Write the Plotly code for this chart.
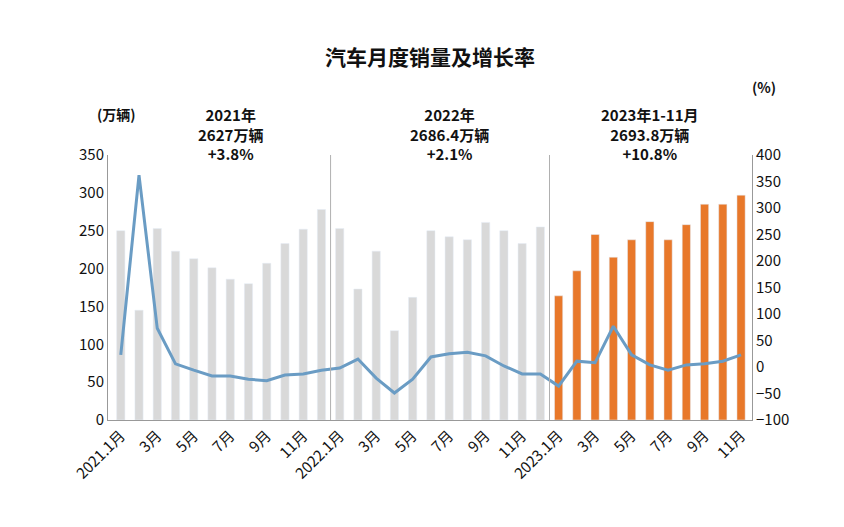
import plotly.graph_objects as go

months = [f"{y}.{m}" for y in (2021, 2022) for m in range(1, 13)] + [f"2023.{m}" for m in range(1, 12)]
sales = [250, 145, 253, 223, 213, 201, 186, 180, 207, 233, 252, 278,
         253, 173, 223, 118, 162, 250, 242, 238, 261, 250, 233, 255,
         164, 197, 245, 215, 238, 262, 238, 258, 285, 285, 297]
growth = [23, 362, 73, 6, -6, -17, -17, -23, -26, -15, -13, -6,
          -2, 15, -21, -49, -23, 19, 25, 28, 21, 2, -13, -13,
          -36, 11, 8, 77, 23, 4, -6, 4, 6, 11, 23]
tick_vals = months[::2] + ["2022.1", "2023.1"]
tick_text = [(m + "月") if m.endswith(".1") else m.split(".")[1] + "月" for m in tick_vals]
year_notes = ["2021年<br>2627万辆<br>+3.8%", "2022年<br>2686.4万辆<br>+2.1%", "2023年1-11月<br>2693.8万辆<br>+10.8%"]
note_x = [6, 18, 29]

colors = ["#d9d9d9"] * 24 + ["#e8782a"] * 11

fig = go.Figure()
fig.add_trace(go.Bar(x=months, y=sales, marker_color=colors, width=0.45, yaxis="y"))
fig.add_trace(go.Scatter(x=months, y=growth, mode="lines", line=dict(color="#6a9cc4", width=3), yaxis="y2"))

for xv in (11.5, 23.5):
    fig.add_shape(type="line", x0=xv, x1=xv, y0=0, y1=1, yref="paper", xref="x",
                  line=dict(color="#b0b0b0", width=1))
for t, xv in zip(year_notes, note_x):
    fig.add_annotation(x=xv, xref="x", y=1.2, yref="paper", text="<b>" + t + "</b>", showarrow=False,
                       yanchor="top", font=dict(size=15, color="#111"))
fig.add_annotation(x=-0.02, y=1.2, xref="paper", yref="paper", text="<b>(万辆)</b>", showarrow=False,
                   yanchor="top", font=dict(size=14, color="#111"))
fig.add_annotation(x=1.04, y=1.3, xref="paper", yref="paper", text="<b>(%)</b>", showarrow=False,
                   yanchor="top", font=dict(size=14, color="#111"))

fig.update_layout(
    width=844, height=527, showlegend=False, plot_bgcolor="white", paper_bgcolor="white",
    title=dict(text="<b>汽车月度销量及增长率</b>", x=0.5, y=0.92, font=dict(size=21, color="#111")),
    font=dict(family="Noto Sans CJK SC", size=15, color="#111"),
    margin=dict(l=100, r=100, t=147, b=115), bargap=0.5,
    xaxis=dict(type="category", tickvals=tick_vals, ticktext=tick_text, tickangle=-45, showline=True,
               linecolor="#999", range=[-0.7, 34.6]),
    yaxis=dict(range=[0, 350], dtick=50, showgrid=False, showline=True, linecolor="#999"),
    yaxis2=dict(range=[-100, 400], dtick=50, overlaying="y", side="right", showgrid=False,
                showline=True, linecolor="#999"),
)
fig.write_html("out.html")
